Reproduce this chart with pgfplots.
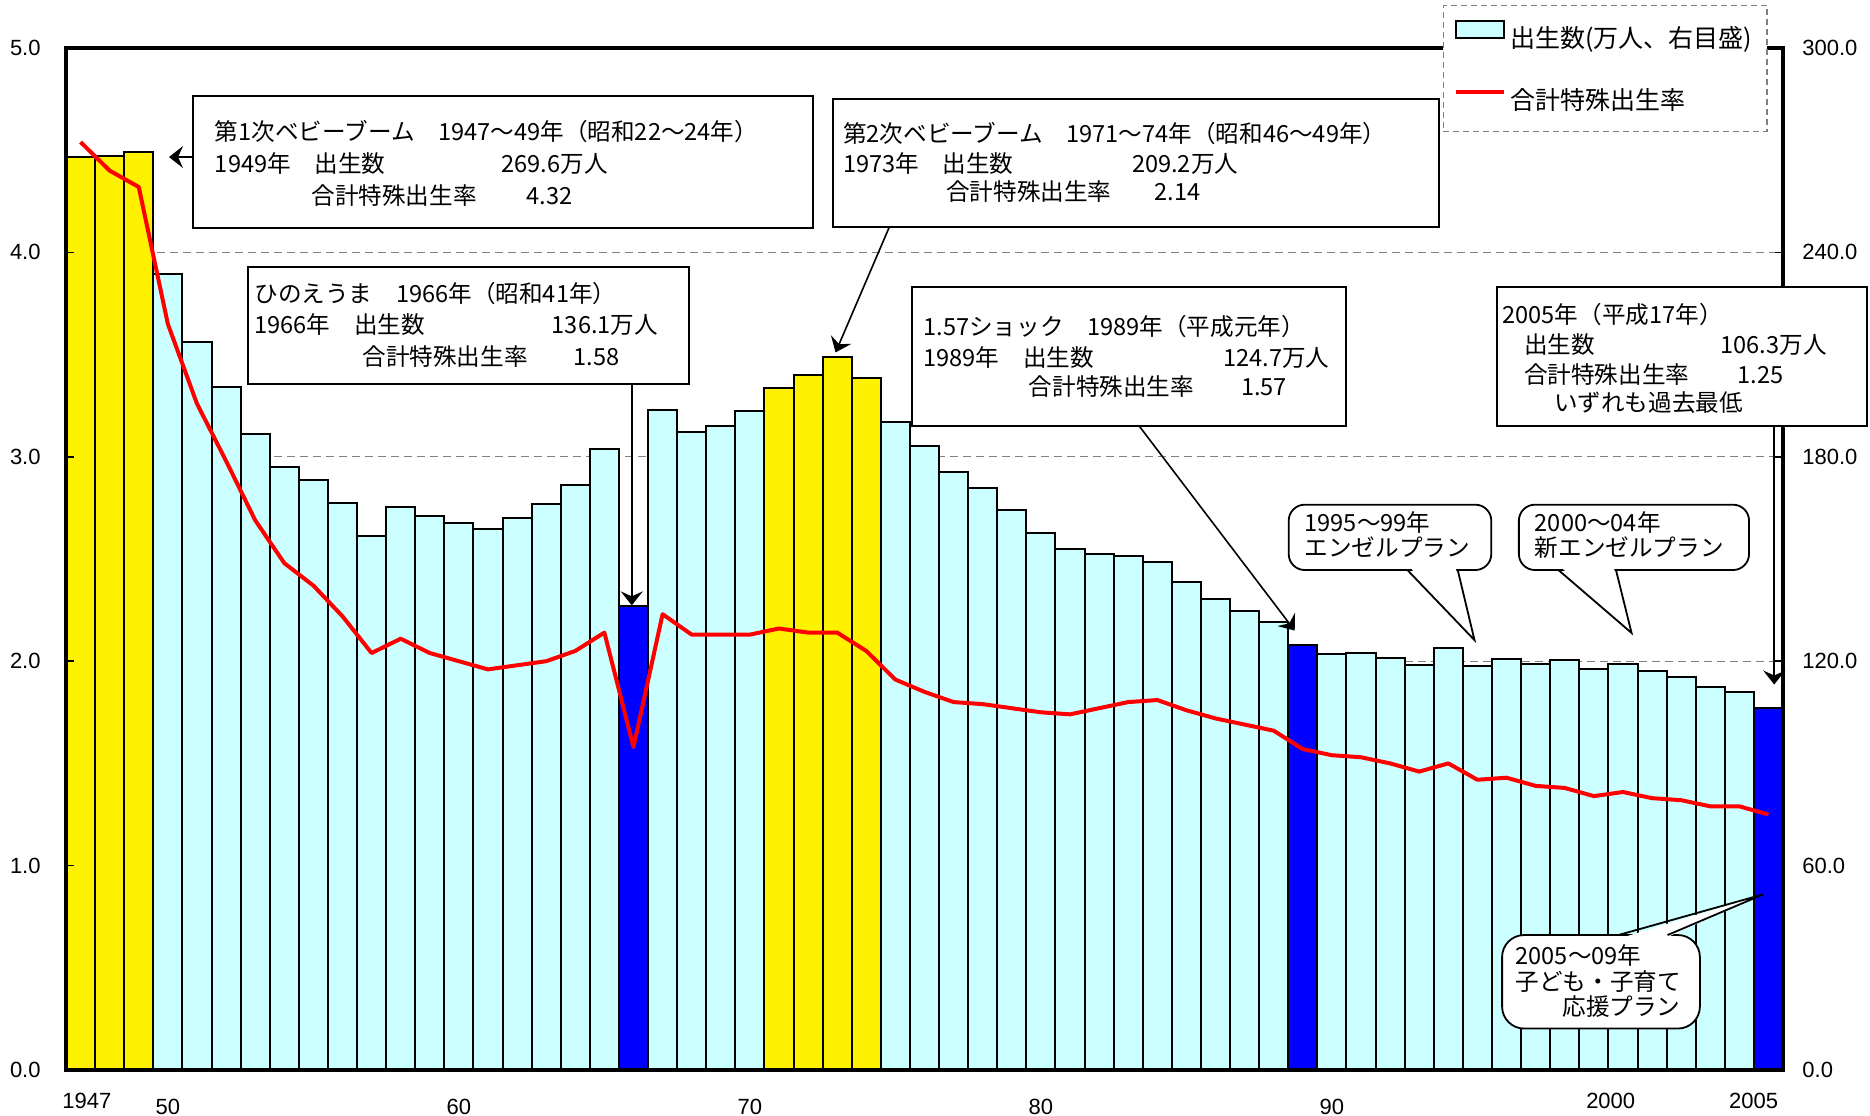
\documentclass[border=0pt]{standalone}
\usepackage{fontspec}
\setmainfont{Noto Sans CJK JP}
\newfontfamily\arialfont{Liberation Sans}
\usepackage{pgfplots}
\usepackage{pgfplotstable}
\pgfplotsset{compat=1.18}
\usetikzlibrary{arrows.meta}
\definecolor{barcyan}{HTML}{CCFFFF}
\definecolor{gridgray}{HTML}{808080}

% births (10k persons), split by bar colour
\pgfplotstableread{
year births
1950 233.8
1951 213.8
1952 200.5
1953 186.8
1954 177.0
1955 173.1
1956 166.5
1957 156.7
1958 165.3
1959 162.6
1960 160.6
1961 158.9
1962 161.9
1963 166.0
1964 171.7
1965 182.4
1967 193.6
1968 187.2
1969 189.0
1970 193.4
1975 190.1
1976 183.3
1977 175.5
1978 170.9
1979 164.3
1980 157.7
1981 152.9
1982 151.5
1983 150.9
1984 149.0
1985 143.2
1986 138.3
1987 134.7
1988 131.4
1990 122.2
1991 122.3
1992 120.9
1993 118.8
1994 123.8
1995 118.7
1996 120.7
1997 119.2
1998 120.3
1999 117.8
2000 119.1
2001 117.1
2002 115.4
2003 112.4
2004 111.1
}\cyanbars

\pgfplotstableread{
year births
1947 267.9
1948 268.2
1949 269.6
1971 200.1
1972 203.9
1973 209.2
1974 203.0
}\yellowbars

\pgfplotstableread{
year births
1966 136.1
1989 124.7
2005 106.3
}\bluebars

% total fertility rate
\pgfplotstableread{
year tfr
1947 4.54
1948 4.40
1949 4.32
1950 3.65
1951 3.26
1952 2.98
1953 2.69
1954 2.48
1955 2.37
1956 2.22
1957 2.04
1958 2.11
1959 2.04
1960 2.00
1961 1.96
1962 1.98
1963 2.00
1964 2.05
1965 2.14
1966 1.58
1967 2.23
1968 2.13
1969 2.13
1970 2.13
1971 2.16
1972 2.14
1973 2.14
1974 2.05
1975 1.91
1976 1.85
1977 1.80
1978 1.79
1979 1.77
1980 1.75
1981 1.74
1982 1.77
1983 1.80
1984 1.81
1985 1.76
1986 1.72
1987 1.69
1988 1.66
1989 1.57
1990 1.54
1991 1.53
1992 1.50
1993 1.46
1994 1.50
1995 1.42
1996 1.43
1997 1.39
1998 1.38
1999 1.34
2000 1.36
2001 1.33
2002 1.32
2003 1.29
2004 1.29
2005 1.25
}\tfrdata

\tikzset{
  ann/.style={anchor=west, inner sep=0pt, text height=10.4pt, text depth=1.4pt,
    font=\fontsize{11.8}{11.8}\selectfont},
  box/.style={draw=black, line width=1pt, fill=white},
  arr/.style={line width=0.8pt, -{Stealth[length=7pt, width=11pt, inset=2.5pt]}},
  bub/.style={draw=black, line width=0.9pt, fill=white, rounded corners=8pt},
}

\begin{document}
\begin{tikzpicture}
\path[use as bounding box] (0,0) rectangle (935pt,557.5pt);

% births, right scale
\begin{axis}[
  at={(33pt,22.5pt)}, anchor=south west,
  scale only axis, width=858.5pt, height=511pt,
  xmin=1946.5, xmax=2005.5, ymin=0, ymax=300,
  axis line style={line width=1.8pt},
  xtick=\empty,
  ytick={0,60,120,180,240,300},
  yticklabels={0.0,60.0,120.0,180.0,240.0,300.0},
  ytick pos=right, yticklabel pos=right,
  tick align=inside, major tick length=4pt,
  tick style={black, line width=0.8pt},
  yticklabel style={font=\arialfont\fontsize{11}{13}\selectfont, inner sep=0pt, anchor=west, xshift=9.5pt},
  ymajorgrids,
  grid style={gridgray, line width=0.7pt, dash pattern=on 4pt off 2.5pt},
  every axis plot/.append style={ybar, bar width=1, bar shift=0pt, draw=black, line width=1pt},
]
\addplot[fill=barcyan] table[x=year, y=births]{\cyanbars};
\addplot[fill=yellow] table[x=year, y=births]{\yellowbars};
\addplot[fill=blue] table[x=year, y=births]{\bluebars};
\end{axis}

% fertility rate, left scale
\begin{axis}[
  at={(33pt,22.5pt)}, anchor=south west,
  scale only axis, width=858.5pt, height=511pt,
  xmin=1946.5, xmax=2005.5, ymin=0, ymax=5,
  axis line style={line width=1.8pt},
  ytick={0,1,2,3,4,5},
  yticklabels={0.0,1.0,2.0,3.0,4.0,5.0},
  ytick pos=left,
  tick align=inside, major tick length=4pt,
  ytick style={black, line width=0.8pt},
  yticklabel style={font=\arialfont\fontsize{11}{13}\selectfont, inner sep=0pt, anchor=east, xshift=-12.5pt},
  xtick={1947.22,1950,1960,1970,1980,1990,1999.58,2004.49},
  xticklabels={\raisebox{3pt}{1947},50,60,70,80,90,\raisebox{3pt}{2000},\raisebox{3pt}{2005}},
  xtick style={draw=none},
  xticklabel style={font=\arialfont\fontsize{11}{13}\selectfont, inner sep=0pt, anchor=base, yshift=-22pt},
  legend cell align=left,
  legend style={at={(rel axis cs:0.8017,1.0421)}, anchor=north west,
    draw=gridgray, line width=0.6pt, dash pattern=on 3pt off 2pt, fill=white,
    inner xsep=5.5pt, inner ysep=7.2pt, row sep=15.4pt,
    font=\fontsize{12.5}{12.5}\selectfont,
    /tikz/every even column/.append style={column sep=5pt}},
]
\addlegendimage{legend image code/.code={\draw[solid, fill=barcyan, draw=black, line width=1pt] (0pt,0pt) rectangle (24pt,8.5pt);}}
\addlegendentry{出生数(万人、右目盛)}
\addplot[red, line width=2pt, line join=round, mark=none,
  legend image code/.code={\draw[solid, red, line width=2pt] (0pt,4.5pt) -- (24pt,4.5pt);}]
  table[x=year, y=tfr]{\tfrdata};
\addlegendentry{合計特殊出生率}
\end{axis}

% annotations (coordinates in reference pixels, origin top left)
\begin{scope}[shift={(0,557.5pt)}, x=0.5994pt, y=-0.5994pt]
% first baby boom
\draw[box] (161,80) rectangle (678,190);
\node[ann] at (179,110) {第1次ベビーブーム　1947～49年（昭和22～24年）};
\node[ann] at (179,136.5) {1949年　出生数};
\node[ann] at (418,136.5) {269.6万人};
\node[ann] at (259.5,163.5) {合計特殊出生率};
\node[ann] at (439,163.5) {4.32};
\draw[arr] (161,131) -- (141,131);

% hinoeuma
\draw[box] (207,223) rectangle (575,320);
\node[ann] at (212,245) {ひのえうま　1966年（昭和41年）};
\node[ann] at (212,271) {1966年　出生数};
\node[ann] at (460,271) {136.1万人};
\node[ann] at (302,297) {合計特殊出生率};
\node[ann] at (478,297) {1.58};
\draw[arr] (527,320) -- (527,505);

% second baby boom
\draw[box] (695,83) rectangle (1200,189);
\node[ann] at (703,111) {第2次ベビーブーム　1971～74年（昭和46～49年）};
\node[ann] at (703,136) {1973年　出生数};
\node[ann] at (944,136) {209.2万人};
\node[ann] at (789,160) {合計特殊出生率};
\node[ann] at (963,160) {2.14};
\draw[arr] (742,189) -- (697,294);

% 1.57 shock
\draw[box] (761,239) rectangle (1123,355);
\node[ann] at (770,272) {1.57ショック　1989年（平成元年）};
\node[ann] at (770,298) {1989年　出生数};
\node[ann] at (1020,298) {124.7万人};
\node[ann] at (858,322) {合計特殊出生率};
\node[ann] at (1035,322) {1.57};
\draw[arr] (950,355) -- (1080,526);

% 2005
\draw[box] (1249,239) rectangle (1557,355);
\node[ann] at (1253,262) {2005年（平成17年）};
\node[ann] at (1271,287) {出生数};
\node[ann] at (1435,287) {106.3万人};
\node[ann] at (1271,312) {合計特殊出生率};
\node[ann] at (1449,312) {1.25};
\node[ann] at (1296,336) {いずれも過去最低};
\draw[arr] (1480,355) -- (1480,571);

% angel plan
\draw[bub] (1075,421) rectangle (1244,475.5);
\fill[white] (1176,473) -- (1230,534) -- (1214,473) -- cycle;
\draw[line width=0.9pt] (1174,475.5) -- (1230,534) -- (1216,475.5);
\node[ann] at (1088,435.5) {1995～99年};
\node[ann] at (1088,457) {エンゼルプラン};

% new angel plan
\draw[bub] (1267,421) rectangle (1459,475.5);
\fill[white] (1302,473) -- (1361,528) -- (1346,473) -- cycle;
\draw[line width=0.9pt] (1300,475.5) -- (1361,528) -- (1348,475.5);
\node[ann] at (1280,435.5) {2000～04年};
\node[ann] at (1280,457) {新エンゼルプラン};

% children and child-rearing support plan
\draw[bub, rounded corners=11pt] (1253,780) rectangle (1418,858);
\fill[white] (1352,782.5) -- (1471,746) -- (1389,782.5) -- cycle;
\draw[line width=0.9pt] (1350,780) -- (1471,746) -- (1391,780);
\node[ann] at (1264,797) {2005～09年};
\node[ann] at (1264,819) {子ども・子育て};
\node[ann] at (1303,840) {応援プラン};
\end{scope}
\end{tikzpicture}
\end{document}
